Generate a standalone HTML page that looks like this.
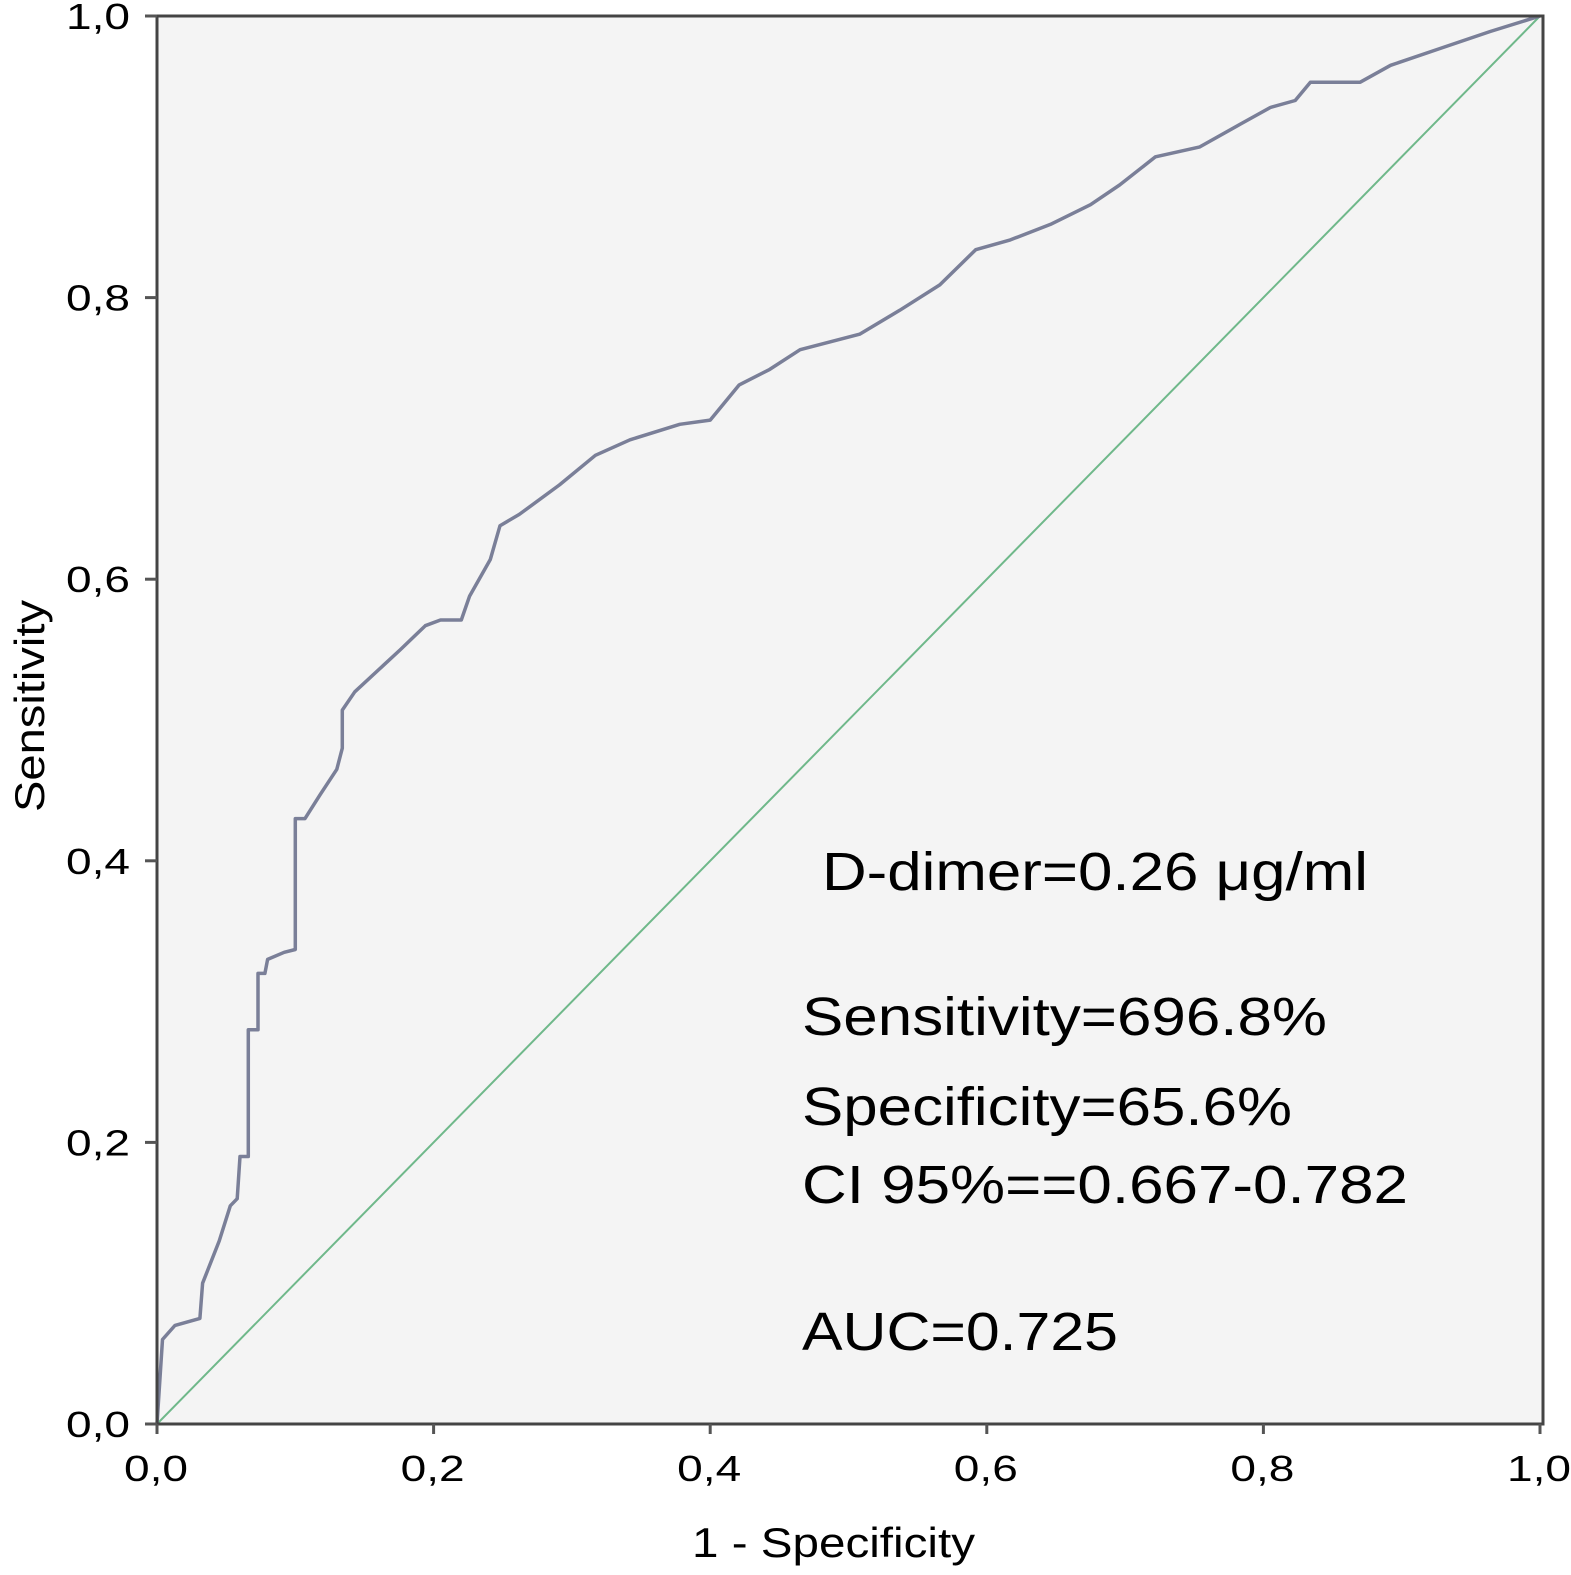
<!DOCTYPE html>
<html><head><meta charset="utf-8"><style>
html,body{margin:0;padding:0;background:#fff;}
svg{display:block;font-family:"Liberation Sans",Arial,sans-serif;}
</style></head><body>
<svg id="chart" width="1571" height="1575" viewBox="0 0 1571 1575">
<rect x="157" y="16" width="1386" height="1408" fill="#f4f4f4"/>
<line x1="157" y1="1424" x2="1540" y2="16" stroke="#6fb88a" stroke-width="2"/>
<path id="roc" fill="none" stroke="#7a7f98" stroke-width="3.5" stroke-linejoin="round"/>
<rect x="157" y="16" width="1386" height="1408" fill="none" stroke="#444" stroke-width="3"/>
<g id="ticks"></g>
<text x="692" y="1557" font-size="42" textLength="283" lengthAdjust="spacingAndGlyphs">1 - Specificity</text>
<text x="0" y="0" font-size="42" textLength="212" lengthAdjust="spacingAndGlyphs" transform="translate(44,812) rotate(-90)">Sensitivity</text>
<g font-size="54" fill="#000">
<text x="822" y="890" textLength="546" lengthAdjust="spacingAndGlyphs">D-dimer=0.26 μg/ml</text>
<text x="802" y="1035" textLength="525" lengthAdjust="spacingAndGlyphs">Sensitivity=696.8%</text>
<text x="802" y="1125" textLength="490" lengthAdjust="spacingAndGlyphs">Specificity=65.6%</text>
<text x="802" y="1203" textLength="606" lengthAdjust="spacingAndGlyphs">CI 95%==0.667-0.782</text>
<text x="802" y="1350" textLength="316" lengthAdjust="spacingAndGlyphs">AUC=0.725</text>
</g>
</svg>
<script>
const fpr=[0,0.004,0.013,0.031,0.033,0.045,0.053,0.058,0.06,0.066,0.066,0.073,0.073,0.078,0.08,0.092,0.1,0.1,0.107,0.118,0.13,0.134,0.134,0.143,0.176,0.194,0.205,0.22,0.226,0.241,0.248,0.262,0.291,0.317,0.342,0.378,0.4,0.421,0.443,0.465,0.508,0.537,0.566,0.592,0.617,0.646,0.675,0.696,0.722,0.754,0.783,0.805,0.823,0.834,0.87,0.892,0.928,0.964,1];
const tpr=[0,0.06,0.07,0.075,0.10,0.13,0.155,0.16,0.19,0.19,0.28,0.28,0.32,0.32,0.33,0.335,0.337,0.43,0.43,0.447,0.465,0.48,0.507,0.52,0.55,0.567,0.571,0.571,0.588,0.614,0.638,0.646,0.667,0.688,0.699,0.71,0.713,0.738,0.749,0.763,0.774,0.791,0.809,0.834,0.841,0.852,0.866,0.88,0.9,0.907,0.923,0.935,0.94,0.953,0.953,0.965,0.977,0.989,1];
const tickVals=[0,0.2,0.4,0.6,0.8,1];
const tickLabels=["0,0","0,2","0,4","0,6","0,8","1,0"];
const X=v=>157+v*1383, Y=v=>1424-v*1408;
const NS="http://www.w3.org/2000/svg";
let d="";
fpr.forEach((f,i)=>{d+=(i?"L":"M")+X(f).toFixed(1)+","+Y(tpr[i]).toFixed(1);});
document.getElementById("roc").setAttribute("d",d);
const g=document.getElementById("ticks");
tickVals.forEach((v,i)=>{
  let l=document.createElementNS(NS,"line");
  l.setAttribute("x1",X(v));l.setAttribute("x2",X(v));l.setAttribute("y1",1424);l.setAttribute("y2",1434);
  l.setAttribute("stroke","#555");l.setAttribute("stroke-width","3");
  
  
  g.appendChild(l);
  let t=document.createElementNS(NS,"text");
  t.setAttribute("x",X(v)-33);t.setAttribute("y",1481);t.setAttribute("font-size","36");
  t.setAttribute("textLength","64");t.setAttribute("lengthAdjust","spacingAndGlyphs");
  t.textContent=tickLabels[i];
  
  
  g.appendChild(t);
  let m=document.createElementNS(NS,"line");
  m.setAttribute("x1",145);m.setAttribute("x2",157);m.setAttribute("y1",Y(v));m.setAttribute("y2",Y(v));
  m.setAttribute("stroke","#555");m.setAttribute("stroke-width","3");
  
  
  g.appendChild(m);
  let s=document.createElementNS(NS,"text");
  s.setAttribute("x",66);s.setAttribute("y",Y(v)+13);s.setAttribute("font-size","36");
  s.setAttribute("textLength","64");s.setAttribute("lengthAdjust","spacingAndGlyphs");
  s.textContent=tickLabels[i];
  
  
  g.appendChild(s);
});
</script>
</body></html>
